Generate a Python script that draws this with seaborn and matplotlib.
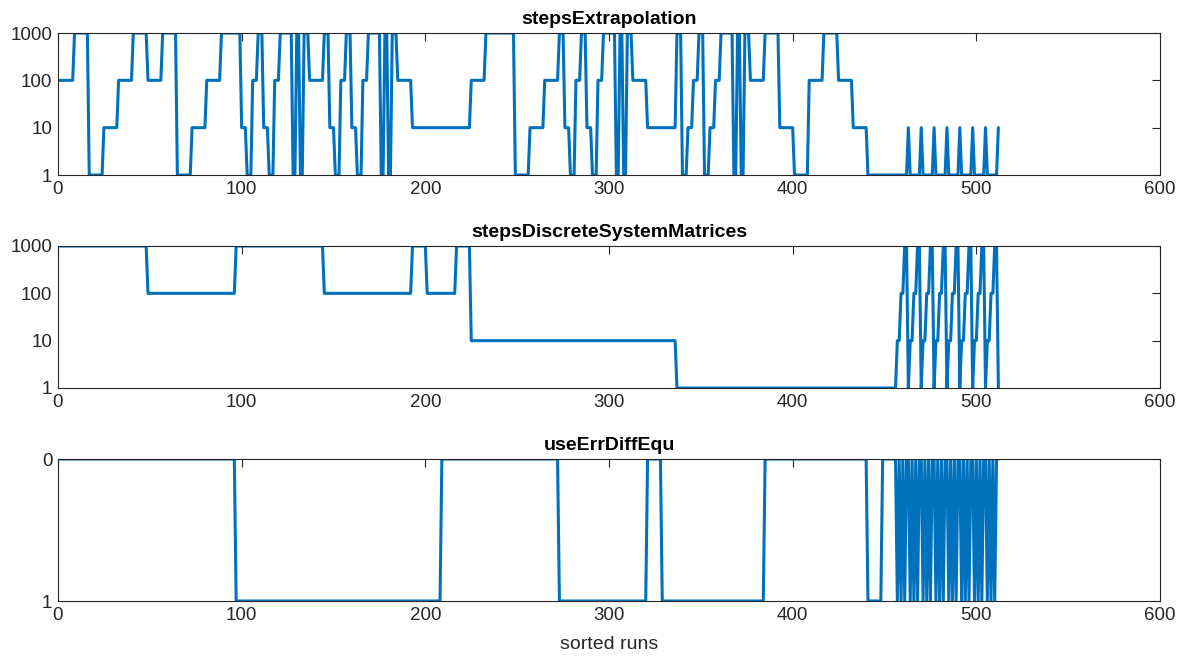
import numpy as np
import pandas as pd
import matplotlib
matplotlib.use("Agg")
import matplotlib.pyplot as plt
import seaborn as sns
from matplotlib.ticker import FixedLocator, FixedFormatter, NullLocator

# Parameter values of the sorted runs, stored run-length encoded (value, number of runs)
extrap_levels = [
    100, 1000, 1, 10, 100, 1000, 100, 1000, 1, 10, 100, 1000,
    1000, 10, 1, 100, 1000, 10, 1, 100,
    1000, 1, 1000, 1, 1000, 100,
    1000, 10, 1, 100, 1000, 10, 1, 100,
    1000, 1, 1000, 1, 1000, 100,
    10, 100, 1000, 1, 10, 100,
    1000, 10, 1, 100, 1000, 10, 1, 100,
    1000, 1, 1000, 1, 1000, 100,
    10,
    1000, 1, 10, 100, 1000, 1, 10, 100,
    1000, 1, 1000, 1, 1000, 100,
    1000, 10, 1, 100, 1000, 100, 10,
    1,
    10, 1, 10, 1, 10, 1, 10, 1, 10, 1, 10, 1, 10, 1, 10,
]
extrap_counts = [
    8, 8, 8, 8, 8, 8, 8, 8, 8, 8, 8, 8,
    3, 3, 3, 3, 3, 3, 3, 3,
    7, 2, 2, 2, 3, 8,
    3, 3, 3, 3, 3, 3, 3, 3,
    7, 2, 2, 2, 3, 8,
    32, 8, 16, 8, 8, 8,
    3, 3, 3, 3, 3, 3, 3, 3,
    7, 2, 2, 2, 3, 8,
    16,
    3, 3, 3, 3, 3, 3, 3, 3,
    7, 2, 2, 2, 3, 8,
    8, 8, 8, 8, 8, 8, 8,
    22,
    1, 6, 1, 6, 1, 6, 1, 6, 1, 6, 1, 6, 1, 6, 1,
]

dsm_levels = [
    1000, 100, 1000, 100, 1000, 100, 1000, 10, 1,
    10, 100, 1000, 1, 10, 100, 1000, 1, 10, 100, 1000, 1, 10, 100, 1000, 1,
    10, 100, 1000, 1, 10, 100, 1000, 1, 10, 100, 1000, 1, 10, 100, 1000, 1,
]
dsm_counts = [
    48, 48, 48, 48, 8, 16, 8, 112, 120,
    2, 2, 2, 1, 2, 2, 2, 1, 2, 2, 2, 1, 2, 2, 2, 1,
    2, 2, 2, 1, 2, 2, 2, 1, 2, 2, 2, 1, 2, 2, 2, 1,
]

err_levels = [0, 1, 0, 1, 0, 1, 0, 1, 0] + [1, 0, 1, 0, 1, 0, 0] * 8
err_counts = [96, 112, 64, 48, 8, 56, 56, 8, 8] + [1] * 56

run_index = np.arange(1, 513)

df = pd.DataFrame({
    "run": run_index,
    "stepsExtrapolation": np.repeat(extrap_levels, extrap_counts),
    "stepsDiscreteSystemMatrices": np.repeat(dsm_levels, dsm_counts),
    "useErrDiffEqu": np.repeat(err_levels, err_counts),
})

sns.set_theme(style="white")
plt.rcParams["font.family"] = ["Liberation Sans", "DejaVu Sans"]

line_color = "#0072BD"
axis_color = "#262626"
fs_tick = 13.5
fs_title = 14

fig = plt.figure(figsize=(11.83, 6.62), dpi=100)
left, width, height = 58 / 1183, 1102 / 1183, 142 / 662
bottoms = [1 - 175 / 662, 1 - 388 / 662, 1 - 601 / 662]
axes = [fig.add_axes([left, b, width, height]) for b in bottoms]

panels = ["stepsExtrapolation", "stepsDiscreteSystemMatrices", "useErrDiffEqu"]
for ax, col in zip(axes, panels):
    sns.lineplot(data=df, x="run", y=col, ax=ax, color=line_color,
                 linewidth=2.2, estimator=None)
    ax.set_xlim(0, 600)
    ax.set_xticks(np.arange(0, 601, 100))
    ax.set_title(col, fontweight="bold", fontsize=fs_title, pad=6.5, color="black")
    ax.set_xlabel("")
    ax.set_ylabel("")
    for s in ax.spines.values():
        s.set_color(axis_color)
        s.set_linewidth(0.8)
        s.set_visible(True)
    ax.tick_params(axis="both", which="major", direction="in", length=6,
                   width=0.8, color=axis_color, labelsize=fs_tick,
                   labelcolor=axis_color, top=True, right=True, pad=4)
    ax.tick_params(which="minor", length=0)

for ax in axes[:2]:
    ax.set_yscale("log")
    ax.set_ylim(1, 1000)
    ax.yaxis.set_major_locator(FixedLocator([1, 10, 100, 1000]))
    ax.yaxis.set_major_formatter(FixedFormatter(["1", "10", "100", "1000"]))
    ax.yaxis.set_minor_locator(NullLocator())

axes[2].set_ylim(1, 0)
axes[2].set_yticks([0, 1])
axes[2].set_yticklabels(["0", "1"])
axes[2].set_xlabel("sorted runs", fontsize=fs_title, color=axis_color, labelpad=9)

fig.savefig("out.png", dpi=100, facecolor="white")
